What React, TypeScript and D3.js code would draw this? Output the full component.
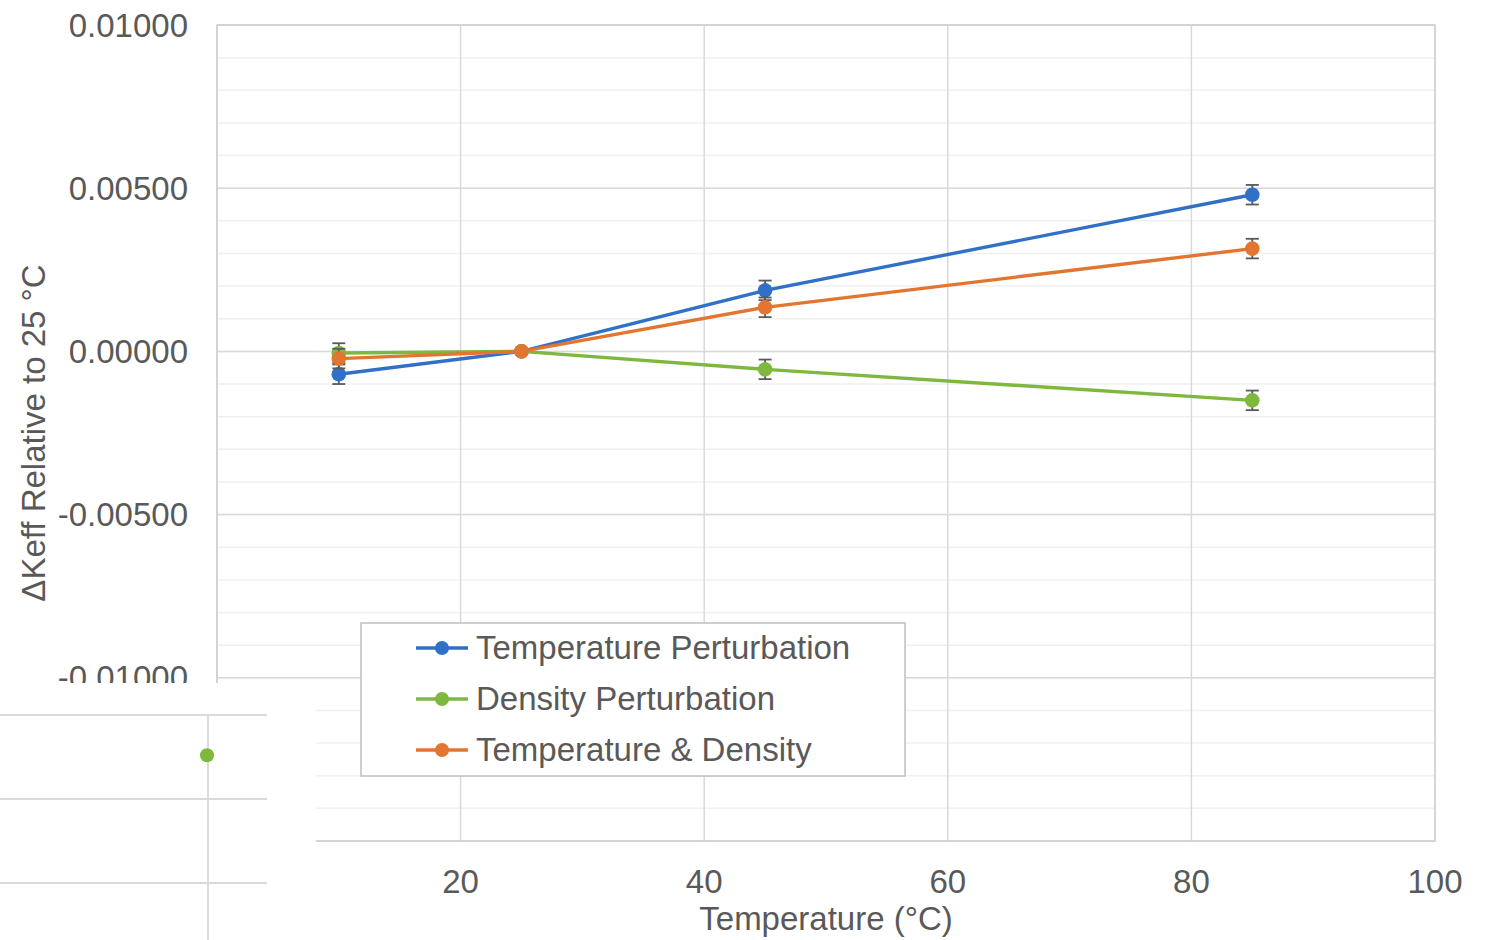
import React from "react";
import * as d3 from "d3";

const temps = [10, 25, 45, 85];
const tempPerturbation = [-0.0007, 0.0, 0.00187, 0.0048];
const densityPerturbation = [-0.00005, 0.0, -0.00055, -0.0015];
const tempAndDensity = [-0.00022, 0.0, 0.00135, 0.00315];
const tempErr = [0.0003, 0, 0.0003, 0.0003];
const densErr = [0.0003, 0, 0.0003, 0.0003];
const bothErr = [0.0003, 0, 0.0003, 0.0003];
const seriesNames = ["Temperature Perturbation", "Density Perturbation", "Temperature & Density"];
const seriesColors = ["#3070c6", "#7fb83f", "#e2752f"];

const yMajorTicks = [-0.015, -0.01, -0.005, 0, 0.005, 0.01];
const xMajorTicks = [0, 20, 40, 60, 80, 100];

// fragment (cut-off piece of another chart, bottom-left)
const fragGridY = [0, 1, 2];
const fragGridX = [1];
const fragDot = { x: 1, y: 0.48 };

const W = 1489, H = 940;
const left = 217, right = 1435, top = 25, bottom = 841;
const textColor = "#595959";
const font = "'Liberation Sans', Arial, sans-serif";
const fs = 33;

export default function App() {
  const x = d3.scaleLinear().domain([0, 100]).range([left, right]);
  const y = d3.scaleLinear().domain([-0.015, 0.01]).range([bottom, top]);
  const minorTicks = d3.range(-15, 11).map((v) => v / 1000);
  const series = [
    { vals: tempPerturbation, err: tempErr },
    { vals: densityPerturbation, err: densErr },
    { vals: tempAndDensity, err: bothErr },
  ];
  const line = d3
    .line<[number, number]>()
    .x((d) => x(d[0]))
    .y((d) => y(d[1]));

  const fx = d3.scaleLinear().domain([0, 1]).range([0, 208]);
  const fy = d3.scaleLinear().domain([0, 1]).range([715, 799]);

  return (
    <svg width={W} height={H} style={{ position: "absolute", left: 0, top: 0, background: "#fff" }} fontFamily={font}>
      <rect x={0} y={0} width={W} height={H} fill="#fff" />
      {minorTicks.map((t, i) => (
        <line key={"mn" + i} x1={left} x2={right} y1={y(t)} y2={y(t)} stroke="#f0f0f0" strokeWidth={1.5} />
      ))}
      {yMajorTicks.map((t, i) => (
        <line key={"my" + i} x1={left} x2={right} y1={y(t)} y2={y(t)} stroke="#d9d9d9" strokeWidth={1.5} />
      ))}
      {xMajorTicks.map((t, i) => (
        <line key={"mx" + i} x1={x(t)} x2={x(t)} y1={top} y2={bottom} stroke="#d9d9d9" strokeWidth={1.5} />
      ))}
      <rect x={left} y={top} width={right - left} height={bottom - top} fill="none" stroke="#d0d0d0" strokeWidth={1.5} />

      {yMajorTicks.map((t, i) => (
        <text key={"yl" + i} x={188} y={y(t) + 11.5} textAnchor="end" fontSize={fs} fill={textColor}>
          {t.toFixed(5)}
        </text>
      ))}
      {xMajorTicks.map((t, i) => (
        <text key={"xl" + i} x={x(t)} y={bottom + 52} textAnchor="middle" fontSize={fs} fill={textColor}>
          {t}
        </text>
      ))}
      <text x={(left + right) / 2} y={930} textAnchor="middle" fontSize={fs} fill={textColor}>
        Temperature (°C)
      </text>
      <text
        transform={`translate(45, ${(top + bottom) / 2}) rotate(-90)`}
        textAnchor="middle"
        fontSize={fs}
        fill={textColor}
      >
        ΔKeff Relative to 25 °C
      </text>

      {series.map((s, si) => {
        const pts = temps.map((t, i) => [t, s.vals[i]] as [number, number]);
        return (
          <g key={"s" + si}>
            <path d={line(pts) || ""} fill="none" stroke={seriesColors[si]} strokeWidth={3.4} />
            {pts.map((p, i) =>
              s.err[i] > 0 ? (
                <g key={"e" + i} stroke="#595959" strokeWidth={1.8}>
                  <line x1={x(p[0])} x2={x(p[0])} y1={y(p[1] - s.err[i])} y2={y(p[1] + s.err[i])} />
                  <line x1={x(p[0]) - 6.5} x2={x(p[0]) + 6.5} y1={y(p[1] - s.err[i])} y2={y(p[1] - s.err[i])} />
                  <line x1={x(p[0]) - 6.5} x2={x(p[0]) + 6.5} y1={y(p[1] + s.err[i])} y2={y(p[1] + s.err[i])} />
                </g>
              ) : null
            )}
            {pts.map((p, i) => (
              <circle key={"c" + i} cx={x(p[0])} cy={y(p[1])} r={7.3} fill={seriesColors[si]} />
            ))}
          </g>
        );
      })}

      {/* legend */}
      <rect x={361} y={623} width={544} height={153} fill="#fff" stroke="#bfbfbf" strokeWidth={1.5} />
      {seriesNames.map((n, i) => {
        const cy = 648 + i * 51;
        return (
          <g key={"lg" + i}>
            <line x1={416} x2={468} y1={cy} y2={cy} stroke={seriesColors[i]} strokeWidth={3.4} />
            <circle cx={442} cy={cy} r={7} fill={seriesColors[i]} />
            <text x={476} y={cy + 11} fontSize={fs} fill={textColor}>
              {n}
            </text>
          </g>
        );
      })}

      {/* cut-off overlay */}
      <rect x={0} y={683} width={316} height={H - 683} fill="#fff" />
      {fragGridY.map((g, i) => (
        <line key={"fg" + i} x1={0} x2={267} y1={fy(g)} y2={fy(g)} stroke="#d9d9d9" strokeWidth={1.8} />
      ))}
      {fragGridX.map((g, i) => (
        <line key={"fx" + i} x1={fx(g)} x2={fx(g)} y1={fy(0)} y2={H} stroke="#d9d9d9" strokeWidth={1.8} />
      ))}
      <circle cx={fx(fragDot.x) - 1} cy={fy(fragDot.y)} r={7} fill={seriesColors[1]} />
    </svg>
  );
}
